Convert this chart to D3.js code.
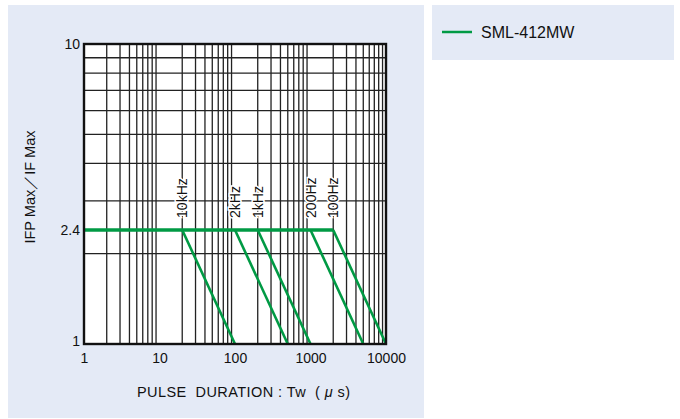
<!DOCTYPE html>
<html>
<head>
<meta charset="utf-8">
<script src="https://cdn.jsdelivr.net/npm/d3@7"></script>
<style>
  body { margin: 0; background: #fff; }
  svg text { font-family: "Liberation Sans", Arial, sans-serif; fill: #111; }
</style>
</head>
<body>
<svg width="680" height="419"></svg>
<script>
// values
var seriesName = "SML-412MW"
var xTicks = [1, 10, 100, 1000, 10000]
var yTicks = [1, 2.4, 10]
var freqLabels = ["10kHz", "2kHz", "1kHz", "200Hz", "100Hz"]
var breakTw = [20, 100, 200, 1000, 2000]     // where each curve leaves 2.4
var endTw = [100, 500, 1000, 5000, 10000]    // where each curve reaches 1
var flatRatio = 2.4
var flatStartTw = 1
var minRatio = 1

var green = "#009a44"
var svg = d3.select("svg")

// panels
svg.append("rect").attr("x", 8).attr("y", 5).attr("width", 416).attr("height", 413).attr("fill", "#e4eaf6")
svg.append("rect").attr("x", 432).attr("y", 5).attr("width", 242).attr("height", 55).attr("fill", "#e4eaf6")

var pL = 84, pR = 386, pT = 44, pB = 344
var x = d3.scaleLog().domain([1, 10000]).range([pL, pR])
var y = d3.scaleLog().domain([1, 10]).range([pB, pT])

var g = svg.append("g")
g.append("rect").attr("x", pL).attr("y", pT).attr("width", pR - pL).attr("height", pB - pT).attr("fill", "#fff")

// log grid
var xGrid = []
for (var d = 1; d < 10000; d *= 10) for (var k = 2; k <= 9; k++) xGrid.push(d * k)
var yGrid = [2, 3, 4, 5, 6, 7, 8, 9]

g.selectAll(".vg").data(xGrid).enter().append("line")
  .attr("x1", function(d) { return x(d) }).attr("x2", function(d) { return x(d) })
  .attr("y1", pT).attr("y2", pB)
  .attr("stroke", "#222").attr("stroke-width", 1.3)
g.selectAll(".hg").data(yGrid).enter().append("line")
  .attr("x1", pL).attr("x2", pR)
  .attr("y1", function(d) { return y(d) }).attr("y2", function(d) { return y(d) })
  .attr("stroke", "#222").attr("stroke-width", 1.3)

// curves
var line = d3.line().x(function(d) { return x(d[0]) }).y(function(d) { return y(d[1]) })
breakTw.forEach(function(b, i) {
  g.append("path").attr("d", line([[b, flatRatio], [endTw[i], minRatio]]))
    .attr("fill", "none").attr("stroke", green).attr("stroke-width", 2.6)
})
g.append("path").attr("d", line([[flatStartTw, flatRatio], [d3.max(breakTw), flatRatio]]))
  .attr("fill", "none").attr("stroke", green).attr("stroke-width", 3.4)

// frequency labels
g.selectAll(".fl").data(freqLabels).enter().append("text")
  .attr("transform", function(d, i) { return "translate(" + (x(breakTw[i]) + 5) + "," + (y(flatRatio) - 12) + ") rotate(-90)" })
  .attr("font-size", 14)
  .attr("stroke", "#fff").attr("stroke-width", 3).attr("paint-order", "stroke")
  .text(function(d) { return d })

// frame
g.append("rect").attr("x", pL).attr("y", pT).attr("width", pR - pL).attr("height", pB - pT)
  .attr("fill", "none").attr("stroke", "#111").attr("stroke-width", 2.4)

// axes
var xAxis = svg.append("g").attr("transform", "translate(0," + pB + ")")
  .call(d3.axisBottom(x).tickValues(xTicks).tickFormat(d3.format("d")).tickSize(0).tickPadding(9))
var yAxis = svg.append("g").attr("transform", "translate(" + pL + ",0)")
  .call(d3.axisLeft(y).tickValues(yTicks).tickFormat(function(d) { return d }).tickSize(0).tickPadding(4))
xAxis.select(".domain").remove()
yAxis.select(".domain").remove()
svg.selectAll(".tick text").attr("font-size", 14).attr("fill", "#111")
  .style("font-family", "'Liberation Sans', Arial, sans-serif")
yAxis.selectAll(".tick text").filter(function(d) { return d === 1 }).attr("dy", "0.1em")

// axis titles
var xt = svg.append("text").attr("x", 137).attr("y", 397).attr("font-size", 14.5)
  .attr("textLength", 213).attr("lengthAdjust", "spacing")
xt.append("tspan").text("PULSE\u00a0\u00a0DURATION : Tw\u00a0\u00a0( ")
xt.append("tspan").attr("font-style", "italic").text("\u03bc")
xt.append("tspan").text(" s)")

svg.append("text").attr("transform", "translate(35,187) rotate(-90)").attr("text-anchor", "middle")
  .attr("font-size", 14.5).text("IFP Max\uff0fIF Max")

// legend
svg.append("line").attr("x1", 442).attr("x2", 472).attr("y1", 32).attr("y2", 32)
  .attr("stroke", green).attr("stroke-width", 2.5)
svg.append("text").attr("x", 481).attr("y", 38).attr("font-size", 16).text(seriesName)
</script>
</body>
</html>
